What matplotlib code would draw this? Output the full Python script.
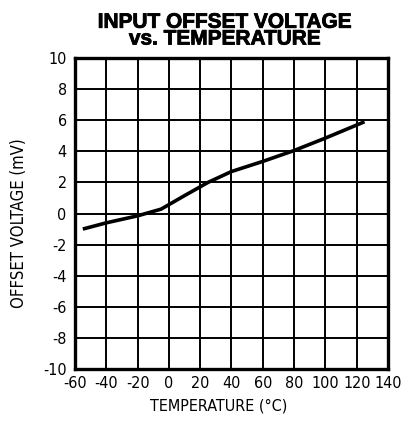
import matplotlib
matplotlib.use("Agg")
import matplotlib.pyplot as plt
import matplotlib.patheffects as pe

# Offset voltage vs temperature
temp_c = [-55, -40, -20, -5, 10, 25, 40, 60, 80, 100, 125]
offset_mv = [-1.0, -0.6, -0.15, 0.28, 1.15, 2.0, 2.7, 3.35, 4.05, 4.85, 5.9]

x_ticks = list(range(-60, 141, 20))
y_ticks = list(range(-10, 11, 2))

plt.rcParams["axes.unicode_minus"] = False

fig = plt.figure(figsize=(4.05, 4.25), dpi=100)
ax = fig.add_axes([75 / 405, 1 - 369 / 425, 313 / 405, 311 / 425])

ax.plot(temp_c, offset_mv, color="black", lw=2.6, solid_capstyle="butt")

ax.set_xlim(-60, 140)
ax.set_ylim(-10, 10)
ax.set_xticks(x_ticks)
ax.set_yticks(y_ticks)
ax.grid(True, color="black", lw=1.4)
ax.tick_params(length=0)
ax.tick_params(axis="x", pad=5)
ax.tick_params(axis="y", pad=6)
for lab in ax.get_xticklabels() + ax.get_yticklabels():
    lab.set_family("DejaVu Sans")
    lab.set_stretch("condensed")
    lab.set_fontsize(11.5)
for s in ax.spines.values():
    s.set_linewidth(2.4)

ax.set_xlabel("TEMPERATURE (°C)", family="DejaVu Sans", stretch="condensed", fontsize=11.5)
ax.xaxis.set_label_coords(0.46, -0.095)
ax.set_ylabel("OFFSET VOLTAGE (mV)", family="DejaVu Sans", stretch="condensed", fontsize=12)
ax.yaxis.set_label_coords(-0.15, 0.47)

fig.text(0.555, 0.97, "INPUT OFFSET VOLTAGE\nvs. TEMPERATURE", ha="center", va="top",
         family=["Liberation Sans", "DejaVu Sans"], fontweight="bold", fontsize=15,
         linespacing=0.85,
         path_effects=[pe.withStroke(linewidth=0.6, foreground="black")])

fig.savefig("out.png", dpi=100)
